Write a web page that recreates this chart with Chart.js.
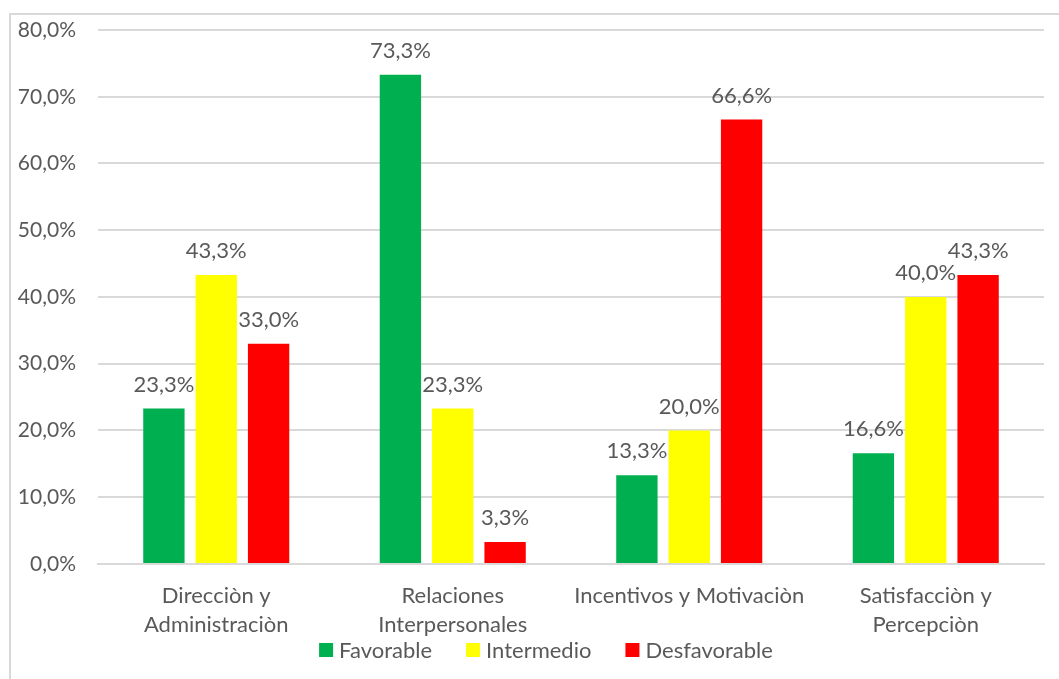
<!DOCTYPE html>
<html>
<head>
<meta charset="utf-8">
<script src="https://cdn.jsdelivr.net/npm/chart.js@4/dist/chart.umd.min.js"></script>
<style>
  html, body { margin: 0; padding: 0; background: #fff; }
  #wrap { position: relative; width: 1059px; height: 679px; }
  #frame { position: absolute; left: 9px; top: 13px; right: -4px; bottom: -4px;
    border: 2px solid #d9d9d9; }
  canvas { position: absolute; left: 0; top: 0; }
</style>
</head>
<body>
<div id="wrap">
  <div id="frame"></div>
  <canvas id="chart" width="1059" height="679"></canvas>
</div>
<script>
  // data
  const categories = [
    ['Direcciòn y', 'Administraciòn'],
    ['Relaciones', 'Interpersonales'],
    'Incentivos y Motivaciòn',
    ['Satisfacciòn y', 'Percepciòn']
  ];
  const favorable = [23.3, 73.3, 13.3, 16.6];
  const intermedio = [43.3, 23.3, 20.0, 40.0];
  const desfavorable = [33.0, 3.3, 66.6, 43.3];

  const fontFamily = 'Lato, "Open Sans", sans-serif';
  const textColor = '#595959';

  const fmt = v => v.toFixed(1).replace('.', ',') + '%';

  // value labels above each bar
  const barLabels = {
    id: 'barLabels',
    afterDatasetsDraw(chart) {
      const ctx = chart.ctx;
      ctx.save();
      ctx.font = '22px ' + fontFamily;
      ctx.fillStyle = textColor;
      ctx.textAlign = 'center';
      ctx.textBaseline = 'middle';
      chart.data.datasets.forEach((ds, i) => {
        chart.getDatasetMeta(i).data.forEach((bar, j) => {
          ctx.fillText(fmt(ds.data[j]), bar.x, bar.y - 24);
        });
      });
      ctx.restore();
    }
  };

  // Excel-style legend under the axis labels (tight box, wide item spacing)
  const bottomLegend = {
    id: 'bottomLegend',
    afterDraw(chart) {
      const ctx = chart.ctx;
      const box = 14, gap = 6, spacing = 34;
      ctx.save();
      ctx.font = '22px ' + fontFamily;
      ctx.textBaseline = 'middle';
      const items = chart.data.datasets.map(ds => ({
        text: ds.label, color: ds.backgroundColor, w: ctx.measureText(ds.label).width
      }));
      const total = items.reduce((s, it) => s + box + gap + it.w, 0) + spacing * (items.length - 1);
      let x = 546 - total / 2;
      const y = 650;
      items.forEach(it => {
        ctx.fillStyle = it.color;
        ctx.fillRect(x, y - box / 2, box, box);
        ctx.fillStyle = textColor;
        ctx.fillText(it.text, x + box + gap, y + 1);
        x += box + gap + it.w + spacing;
      });
      ctx.restore();
    }
  };

  new Chart(document.getElementById('chart'), {
    type: 'bar',
    data: {
      labels: categories,
      datasets: [
        { label: 'Favorable', data: favorable, backgroundColor: '#00B050' },
        { label: 'Intermedio', data: intermedio, backgroundColor: '#FFFF00' },
        { label: 'Desfavorable', data: desfavorable, backgroundColor: '#FF0000' }
      ]
    },
    options: {
      responsive: false,
      animation: false,
      categoryPercentage: 0.664,
      barPercentage: 0.79,
      layout: { padding: { left: 17, right: 15, top: 30, bottom: 23 } },
      plugins: {
        legend: { display: false },
        tooltip: { enabled: false }
      },
      scales: {
        x: {
          grid: { display: false, drawTicks: false },
          border: { display: true, color: '#d9d9d9', width: 2 },
          ticks: {
            color: textColor,
            padding: 17,
            maxRotation: 0,
            font: { family: fontFamily, size: 22, lineHeight: 1.32 }
          }
        },
        y: {
          min: 0,
          max: 80,
          grid: { color: '#d9d9d9', lineWidth: 2, drawTicks: false },
          border: { display: false },
          afterFit(scale) { scale.width = 81; scale.paddingTop = 0; },
          ticks: {
            stepSize: 10,
            padding: 22,
            color: textColor,
            font: { family: fontFamily, size: 21 },
            callback: v => fmt(v)
          }
        }
      }
    },
    plugins: [barLabels, bottomLegend]
  });
</script>
</body>
</html>
